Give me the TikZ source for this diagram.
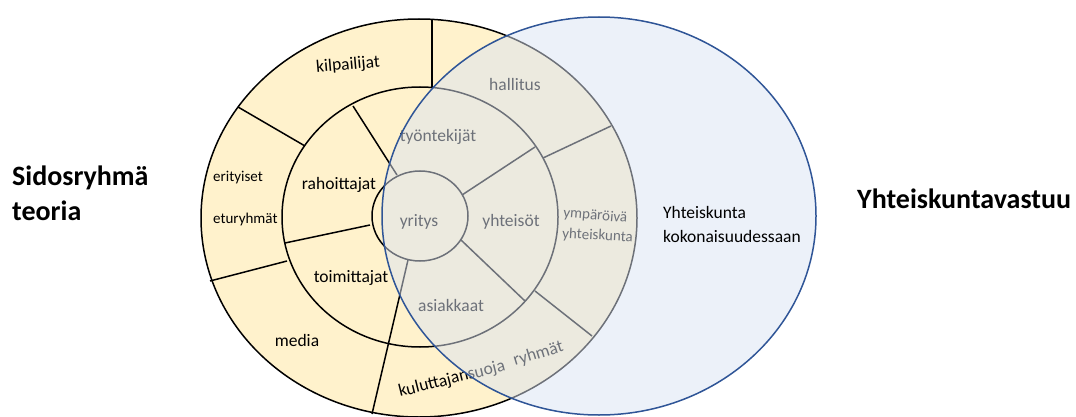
\documentclass[tikz,border=0pt]{standalone}
\usepackage{fontspec}
\setmainfont{Carlito}
\usetikzlibrary{positioning}
\definecolor{ringfill}{HTML}{FFF2CC}
\definecolor{csrfill}{HTML}{DAE3F3}
\definecolor{csrline}{HTML}{2F5597}
\tikzset{
  ring/.style={draw=black, line width=1.5pt},
  divider/.style={draw=black, line width=1.5pt},
  lbl/.style={inner sep=0pt, font=\fontsize{17.5}{21}\selectfont},
  smalllbl/.style={inner sep=0pt, font=\fontsize{15}{18}\selectfont},
  heading/.style={inner sep=0pt, font=\fontsize{28}{34}\selectfont\bfseries}
}

\begin{document}
\begin{tikzpicture}[x=1pt, y=-1pt]
  \useasboundingbox (0,0) rectangle (1076,417);
  % stakeholder rings
  \filldraw[ring, fill=ringfill] (419,218) ellipse [x radius=218pt, y radius=199pt];
  \draw[ring] (420,217) ellipse [x radius=138pt, y radius=130pt];
  \draw[ring] (420,216) ellipse [x radius=48pt, y radius=45pt];
  % outer ring dividers
  \draw[divider] (432,19) -- (432,88);
  \draw[divider] (238,107) -- (305,146);
  \draw[divider] (210,281) -- (287,261);
  \draw[divider] (372,414) -- (408,260);
  \draw[divider] (535,291) -- (592,336);
  \draw[divider] (543,158) -- (611,126);
  % middle ring dividers
  \draw[divider] (353,106) -- (397,175);
  \draw[divider] (285,243) -- (370,225);
  \draw[divider] (461,240) -- (525,301);
  \draw[divider] (462,195) -- (535,147);
  % ring labels
  \node[lbl, rotate=5] (kilp) at (348,65) {kilpailijat};
  \node[lbl] (hall) at (515,84) {hallitus};
  \node[lbl] (tyon) at (438,137) {työntekijät};
  \node[smalllbl, anchor=base west] (erit) at (213,182) {erityiset};
  \node[smalllbl, anchor=base west] (etur) at (213,223) {eturyhmät};
  \node[lbl] (rahoit) at (339,185) {rahoittajat};
  \node[lbl] (yritys) at (419,222) {yritys};
  \node[lbl] (yhteis) at (511,222) {yhteisöt};
  \node[smalllbl, anchor=base west, rotate=-5] (ymp) at (563,217) {ympäröivä};
  \node[smalllbl, anchor=base west, rotate=-3] (ympyht) at (562,238) {yhteiskunta};
  \node[lbl] (toim) at (351,278) {toimittajat};
  \node[lbl] (asiak) at (451,305) {asiakkaat};
  \node[lbl] (media) at (297,340) {media};
  \node[lbl, anchor=base west, rotate=14] (kulut) at (400,397) {kuluttajansuoja};
  \node[lbl, anchor=base west, rotate=17] (ryhm) at (515,366) {ryhmät};
  % society circle
  \fill[csrfill, fill opacity=0.5] (599,216) ellipse [x radius=217pt, y radius=199pt];
  \draw[csrline, line width=1.5pt] (599,216) ellipse [x radius=217pt, y radius=199pt];
  \node[lbl, anchor=base west] (yht) at (663,218) {Yhteiskunta};
  \node[lbl, anchor=base west] (kokon) at (663,242) {kokonaisuudessaan};
  % headings
  \node[heading, anchor=base west] (sidos) at (12,185) {Sidosryhmä};
  \node[heading, anchor=base west] (teoria) at (12,220) {teoria};
  \node[heading, anchor=base west] (csr) at (857,208) {Yhteiskuntavastuu};
\end{tikzpicture}
\end{document}
